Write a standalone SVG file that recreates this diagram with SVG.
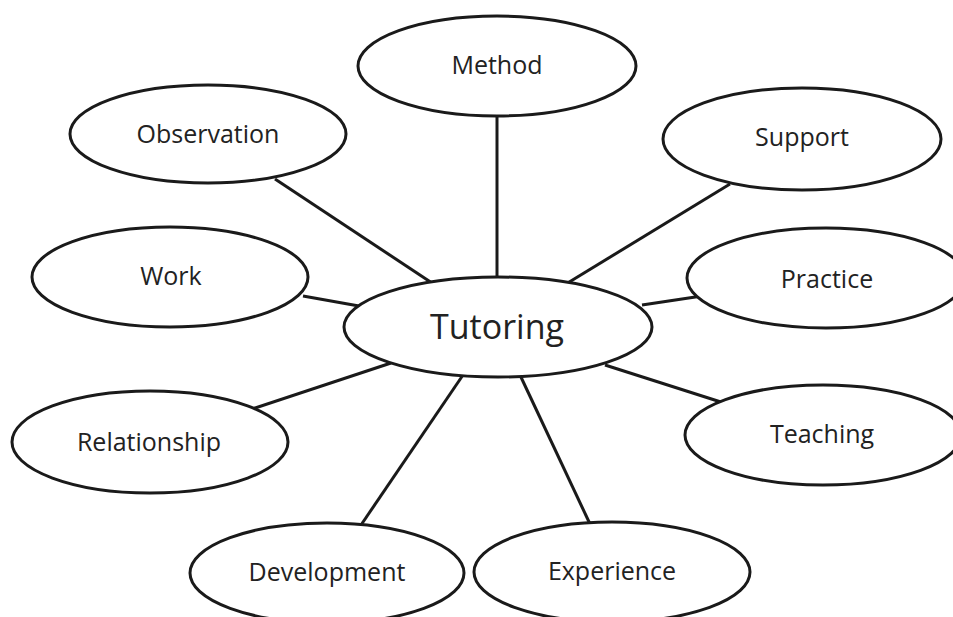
<svg xmlns="http://www.w3.org/2000/svg" width="953" height="617" viewBox="0 0 953 617">
  <style>
    .node ellipse { fill: #ffffff; stroke: #1a1a1a; stroke-width: 3; }
    .node text { font-family: "Open Sans", "Liberation Sans", sans-serif; font-size: 25px; fill: #222222; text-anchor: middle; }
    #tutoring text { font-size: 34px; }
    #connectors line { stroke: #1a1a1a; stroke-width: 3; }
  </style>
  <rect width="953" height="617" fill="#ffffff"/>
  <g id="connectors">
    <line x1="497" y1="114" x2="497" y2="279"/>
    <line x1="275" y1="179" x2="432" y2="283"/>
    <line x1="730" y1="184" x2="566" y2="284"/>
    <line x1="303" y1="296" x2="359" y2="306"/>
    <line x1="642" y1="305" x2="702" y2="296"/>
    <line x1="252" y1="409" x2="391" y2="363"/>
    <line x1="605" y1="365" x2="724" y2="403"/>
    <line x1="361" y1="525" x2="463" y2="375"/>
    <line x1="590" y1="524" x2="520" y2="375"/>
  </g>
  <g id="tutoring" class="node">
    <ellipse cx="498" cy="327" rx="154" ry="50"/>
    <text x="497" y="339">Tutoring</text>
  </g>
  <g id="method" class="node">
    <ellipse cx="497" cy="66" rx="139" ry="50"/>
    <text x="497" y="74">Method</text>
  </g>
  <g id="observation" class="node">
    <ellipse cx="208" cy="134" rx="138" ry="49"/>
    <text x="208" y="143">Observation</text>
  </g>
  <g id="support" class="node">
    <ellipse cx="802" cy="139" rx="139" ry="51"/>
    <text x="802" y="146">Support</text>
  </g>
  <g id="work" class="node">
    <ellipse cx="170" cy="277" rx="138" ry="50"/>
    <text x="171" y="285">Work</text>
  </g>
  <g id="practice" class="node">
    <ellipse cx="826" cy="278" rx="139" ry="50"/>
    <text x="827" y="288">Practice</text>
  </g>
  <g id="relationship" class="node">
    <ellipse cx="150" cy="442" rx="138" ry="51"/>
    <text x="149" y="451">Relationship</text>
  </g>
  <g id="teaching" class="node">
    <ellipse cx="823" cy="435" rx="138" ry="50"/>
    <text x="822" y="443">Teaching</text>
  </g>
  <g id="development" class="node">
    <ellipse cx="327" cy="573" rx="137" ry="50"/>
    <text x="327" y="581">Development</text>
  </g>
  <g id="experience" class="node">
    <ellipse cx="612" cy="572" rx="138" ry="50"/>
    <text x="612" y="580">Experience</text>
  </g>
</svg>
